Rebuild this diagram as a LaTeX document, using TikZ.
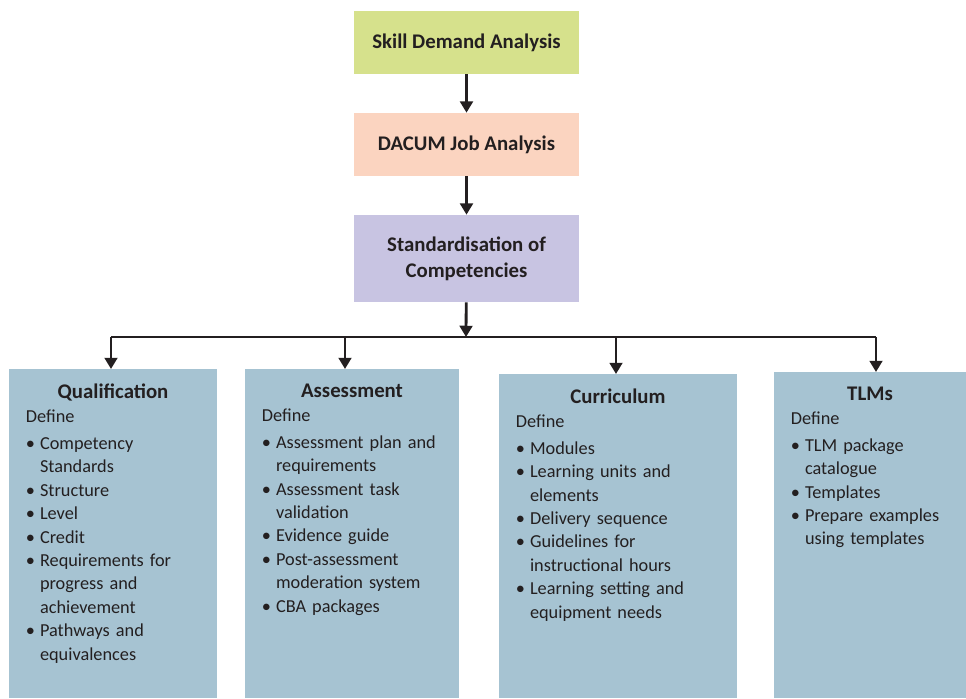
\documentclass[tikz,border=0pt]{standalone}
\usepackage{fontspec}
\setmainfont{Carlito}
\usetikzlibrary{arrows.meta}

\definecolor{skillgreen}{HTML}{D6E18C}
\definecolor{dacumpeach}{HTML}{FBD4C0}
\definecolor{stdlavender}{HTML}{C8C4E2}
\definecolor{areablue}{HTML}{A6C3D2}
\definecolor{inkdark}{HTML}{231F20}

\newcommand{\bul}[1]{\par\hangindent=10pt\hangafter=1\noindent\makebox[10pt][l]{\textbullet}#1}
\newcommand{\boxhead}[1]{{\centering\fontsize{14.8}{17}\selectfont\bfseries #1\par}\vspace{0.5pt}\noindent Define\par\vspace{2.5pt}}

\tikzset{
  stage/.style={rectangle, inner sep=0pt, minimum width=5.6cm, align=center,
    text=inkdark, font=\fontsize{14.8}{17.5}\selectfont\bfseries},
  area/.style={rectangle, inner sep=0pt, fill=areablue, anchor=north},
  areatext/.style={inner sep=0pt, anchor=north, text=inkdark,
    font=\fontsize{13}{16.65}\selectfont},
  arr/.style={draw=inkdark, line width=2pt, -{Triangle[width=9pt,length=8pt]}},
  link/.style={draw=inkdark, line width=2pt}
}

\begin{document}
\begin{tikzpicture}[x=0.025cm, y=-0.025cm]

      \useasboundingbox (0,0) rectangle (966,698);

      \begin{scope}[every node/.style={stage}]
        \node[fill=skillgreen, minimum height=1.575cm] (sda) at (466.5,42.5) {Skill Demand Analysis};
        \node[fill=dacumpeach, minimum height=1.575cm] (dacum) at (466.5,144.5) {DACUM Job Analysis};
        \node[fill=stdlavender, minimum height=2.175cm] (std) at (466.5,258.5) {Standardisation of\\[1pt]Competencies};
      \end{scope}

      \node[area, minimum width=5.2cm, minimum height=8.225cm] (qual) at (113,369) {};
      \node[area, minimum width=5.35cm, minimum height=8.225cm] (assess) at (352,369) {};
      \node[area, minimum width=5.95cm, minimum height=8.1cm] (curr) at (618,374) {};
      \node[area, minimum width=4.8cm, minimum height=8.15cm] (tlm) at (870,372) {};

      \begin{scope}[every node/.style={areatext}]
        \node[text width=4.35cm] (qualtext) at ([yshift=-0.36cm]qual.north) {\boxhead{Qualification}%
          \bul{Competency\newline Standards}\bul{Structure}\bul{Level}\bul{Credit}%
          \bul{Requirements for\newline progress and\newline achievement}\bul{Pathways and\newline equivalences}\par};
        \node[text width=4.5cm] (assesstext) at ([yshift=-0.36cm]assess.north) {\boxhead{Assessment}%
          \bul{Assessment plan and\newline requirements}\bul{Assessment task\newline validation}\bul{Evidence guide}%
          \bul{Post-assessment\newline moderation system}\bul{CBA packages}\par};
        \node[text width=5.1cm] (currtext) at ([yshift=-0.36cm]curr.north) {\boxhead{Curriculum}%
          \bul{Modules}\bul{Learning units and\newline elements}\bul{Delivery sequence}%
          \bul{Guidelines for\newline instructional hours}\bul{Learning setting and\newline equipment needs}\par};
        \node[text width=3.95cm] (tlmtext) at ([yshift=-0.36cm]tlm.north) {\boxhead{TLMs}%
          \bul{TLM package\newline catalogue}\bul{Templates}\bul{Prepare examples\newline using templates}\par};
      \end{scope}

      \coordinate (split) at (466,337);
      \coordinate (qualturn) at (111,337);
      \coordinate (assessturn) at (345,337);
      \coordinate (currturn) at (616,337);
      \coordinate (tlmturn) at (876,337);

      \path[arr] (sda) -- (dacum);
      \path[arr] (dacum) -- (std);
      \path[arr] (std) -- (split);
      \path[link] (qualturn) -- (tlmturn);
      \path[arr] (qualturn) -- (qualturn |- qual.north);
      \path[arr] (assessturn) -- (assessturn |- assess.north);
      \path[arr] (currturn) -- (currturn |- curr.north);
      \path[arr] (tlmturn) -- (tlmturn |- tlm.north);

    \end{tikzpicture}
\end{document}
